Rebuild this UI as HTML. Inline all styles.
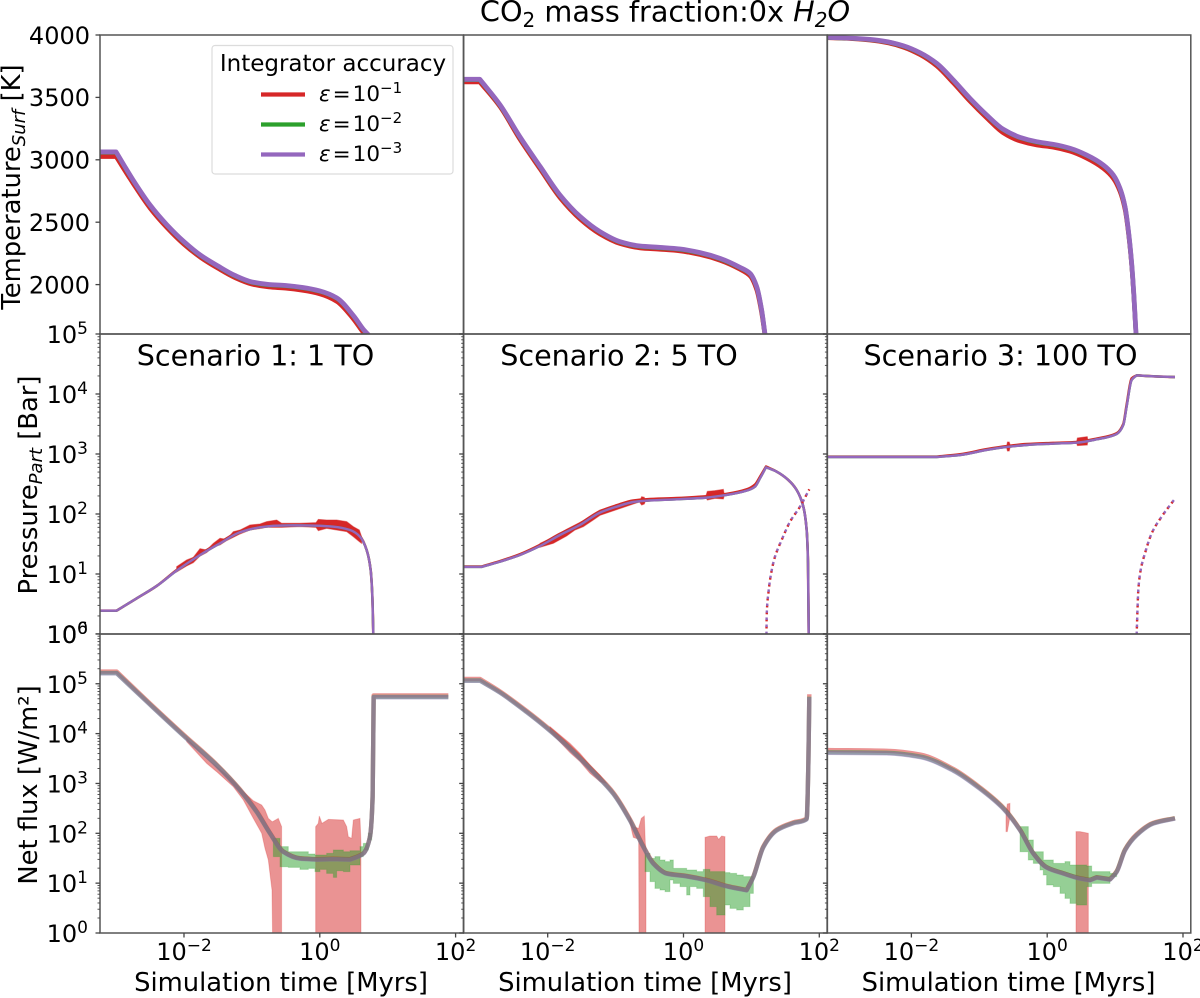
<!DOCTYPE html>
<html lang="en">
<head>
<meta charset="utf-8">
<title>CO2 mass fraction chart</title>
<style>
html,body{margin:0;padding:0;background:#fff;width:1200px;height:998px;overflow:hidden}
svg{display:block;filter:blur(0.35px)}
text{font-family:"DejaVu Sans",sans-serif;fill:#000}
.tl{font-size:24px}
.sup{font-size:17px}
.axt{font-size:25.8px}
.scn{font-size:28.6px}
</style>
</head>
<body>
<svg id="chart" xmlns="http://www.w3.org/2000/svg" width="1200" height="998" viewBox="0 0 1200 998">
  <rect x="0" y="0" width="1200" height="998" fill="#fff"/>
  <g id="marks"></g>
  <g id="axes"></g>

  <text x="665" y="21.5" text-anchor="middle" font-size="28.7">CO<tspan font-size="20" dy="5.5">2</tspan><tspan dy="-5.5"> mass fraction:0x </tspan><tspan font-style="italic">H</tspan><tspan font-size="20" dy="5.5" font-style="italic">2</tspan><tspan dy="-5.5" font-style="italic">O</tspan></text>

  <text class="scn" x="255.5" y="365.5" text-anchor="middle">Scenario 1: 1 TO</text>
  <text class="scn" x="619" y="365.5" text-anchor="middle">Scenario 2: 5 TO</text>
  <text class="scn" x="1000.5" y="365.5" text-anchor="middle">Scenario 3: 100 TO</text>

  <text class="axt" transform="translate(20,187) rotate(-90)" text-anchor="middle">Temperature<tspan font-size="18" font-style="italic" dy="5">Surf</tspan><tspan dy="-5"> [K]</tspan></text>
  <text class="axt" transform="translate(37,485) rotate(-90)" text-anchor="middle">Pressure<tspan font-size="18" font-style="italic" dy="5">Part</tspan><tspan dy="-5"> [Bar]</tspan></text>
  <text class="axt" transform="translate(37,785) rotate(-90)" text-anchor="middle">Net flux [W/m²]</text>

  <text class="axt" x="281" y="991" text-anchor="middle">Simulation time [Myrs]</text>
  <text class="axt" x="645" y="991" text-anchor="middle">Simulation time [Myrs]</text>
  <text class="axt" x="1008.5" y="991" text-anchor="middle">Simulation time [Myrs]</text>

  <g id="legend">
    <rect x="212" y="45.5" width="241" height="128.5" rx="3" fill="#fff" fill-opacity="0.9" stroke="#dcdcdc" stroke-width="1.2"/>
    <text x="333" y="71" text-anchor="middle" font-size="23">Integrator accuracy</text>
    <line x1="261" x2="305" y1="94.5" y2="94.5" stroke="#d62728" stroke-width="4.2"/>
    <text x="319" y="101" font-size="21.5"><tspan font-style="italic">ε</tspan><tspan dx="2">=</tspan><tspan dx="2">10</tspan><tspan font-size="15" dy="-8">−1</tspan></text>
    <line x1="261" x2="305" y1="124.5" y2="124.5" stroke="#2ca02c" stroke-width="4.2"/>
    <text x="319" y="131" font-size="21.5"><tspan font-style="italic">ε</tspan><tspan dx="2">=</tspan><tspan dx="2">10</tspan><tspan font-size="15" dy="-8">−2</tspan></text>
    <line x1="261" x2="305" y1="154.5" y2="154.5" stroke="#9467bd" stroke-width="4.2"/>
    <text x="319" y="161" font-size="21.5"><tspan font-style="italic">ε</tspan><tspan dx="2">=</tspan><tspan dx="2">10</tspan><tspan font-size="15" dy="-8">−3</tspan></text>
  </g>
</svg>

<script>
// ---- Axis tick values ----
const tempTicks = [2000, 2500, 3000, 3500, 4000];
const pressExponents = [0, 1, 2, 3, 4, 5];
const fluxExponents = [0, 1, 2, 3, 4, 5, 6];
const timeExponents = [-2, 0, 2];
const minorMultipliers = [2, 3, 4, 5, 6, 7, 8, 9];

// ---- Temperature [K] vs log10(time in Myr) ----
const tempTime1 = [-3.24,-3,-2.75,-2.5,-2.25,-2,-1.75,-1.5,-1.25,-1,-0.75,-0.5,-0.25,0,0.25,0.5,0.65,0.72];
const tempRed1 = [3025,3025,2810,2612,2455,2322,2215,2130,2055,2003,1980,1970,1953,1925,1865,1720,1610,1575];
const tempGreen1 = [3060,3060,2835,2635,2475,2340,2230,2146,2070,2018,1998,1990,1974,1946,1890,1745,1633,1593];
const tempPurple1 = [3063,3063,2838,2638,2478,2344,2233,2149,2073,2021,2001,1993,1977,1949,1893,1748,1636,1596];

const tempTime2 = [-3.24,-3,-2.7,-2.41,-2.11,-1.82,-1.52,-1.23,-0.935,-0.64,-0.346,-0.05,0.243,0.538,0.832,0.98,1.078,1.151,1.2];
const tempRed2 = [3623,3623,3423,3164,2924,2696,2523,2405,2328,2293,2282,2269,2240,2194,2122,2069,1957,1770,1590];
const tempGreen2 = [3642,3642,3436,3182,2942,2715,2541,2421,2341,2306,2295,2282,2253,2207,2135,2087,1980,1793,1601];
const tempPurple2 = [3645,3645,3439,3185,2945,2718,2544,2424,2344,2309,2298,2285,2256,2210,2138,2090,1983,1796,1604];

const tempTime3 = [-3.238,-2.953,-2.61,-2.364,-2.119,-1.873,-1.628,-1.382,-1.137,-0.891,-0.646,-0.4,-0.155,0.09,0.336,0.581,0.827,0.974,1.072,1.146,1.195,1.244,1.278,1.308];
const tempRed3 = [3978,3972,3958,3938,3902,3842,3752,3615,3468,3335,3215,3150,3118,3100,3068,3012,2930,2850,2745,2600,2415,2150,1885,1590];
const tempGreen3 = [3980,3975,3963,3945,3911,3855,3770,3636,3489,3356,3241,3177,3142,3121,3089,3035,2955,2875,2768,2621,2434,2167,1900,1601];
const tempPurple3 = [3981,3976,3965,3947,3914,3858,3773,3639,3492,3359,3244,3180,3145,3124,3092,3038,2958,2878,2771,2624,2437,2170,1903,1604];

// ---- Partial pressure, log10(Bar) vs log10(time in Myr) ----
const pressTime1 = [-3.237,-2.992,-2.697,-2.403,-2.108,-1.764,-1.47,-1.175,-0.881,-0.635,-0.39,-0.046,0.2,0.445,0.592,0.69,0.749,0.774,0.788];
const pressRed1 = [0.389,0.389,0.594,0.8,1.066,1.33,1.525,1.71,1.79,1.815,1.82,1.815,1.8,1.745,1.63,1.4,1.067,0.622,0];
const pressGreen1 = [0.389,0.389,0.594,0.8,1.056,1.317,1.511,1.695,1.778,1.806,1.811,1.806,1.789,1.733,1.622,1.4,1.067,0.622,0];
const pressPurple1 = [0.389,0.389,0.594,0.8,1.056,1.317,1.511,1.695,1.778,1.806,1.811,1.806,1.789,1.733,1.622,1.4,1.067,0.622,0];
const pressNoiseTime1 = [-2.108,-1.961,-1.863,-1.764,-1.666,-1.568,-1.47,-1.372,-1.274,-1.175,-1.028,-0.881,-0.783,-0.635,-0.562,-0.292,-0.056,-0.022,0.101,0.248,0.396,0.494,0.582,0.616];
const pressNoiseUpper1 = [1.123,1.234,1.278,1.422,1.4,1.511,1.595,1.578,1.706,1.733,1.817,1.834,1.873,1.9,1.845,1.845,1.856,1.911,1.9,1.9,1.873,1.789,1.733,1.622];
const pressNoiseLower1 = [1.034,1.134,1.189,1.3,1.356,1.456,1.484,1.556,1.611,1.667,1.733,1.756,1.778,1.778,1.778,1.789,1.778,1.723,1.761,1.733,1.706,1.622,1.539,1.511];

const pressTime2 = [-3.242,-2.972,-2.702,-2.408,-2.113,-1.819,-1.524,-1.23,-0.984,-0.739,-0.542,-0.1,0.341,0.636,0.93,1.053,1.127,1.215,1.372,1.544,1.667,1.765,1.814,1.834,1.844];
const pressRed2 = [1.125,1.125,1.215,1.33,1.485,1.67,1.84,2.045,2.145,2.225,2.245,2.265,2.295,2.335,2.41,2.49,2.62,2.79,2.706,2.567,2.4,2.122,1.733,1.178,0];
const pressGreen2 = [1.117,1.117,1.206,1.317,1.467,1.65,1.817,2.023,2.122,2.2,2.222,2.245,2.273,2.317,2.389,2.456,2.595,2.778,2.706,2.567,2.4,2.122,1.733,1.178,0];
const pressPurple2 = [1.117,1.117,1.206,1.317,1.467,1.65,1.817,2.023,2.122,2.2,2.222,2.245,2.273,2.317,2.389,2.456,2.595,2.778,2.706,2.567,2.4,2.122,1.733,1.178,0];
const pressNoiseTime2 = [-2.113,-1.917,-1.721,-1.598,-1.475,-1.328,-1.23,-0.65,-0.616,-0.577,-0.562,0.331,0.351,0.464,0.587,0.602];
const pressNoiseUpper2 = [1.511,1.611,1.745,1.817,1.889,2.0,2.067,2.206,2.289,2.278,2.217,2.306,2.378,2.389,2.411,2.317];
const pressNoiseLower2 = [1.445,1.511,1.634,1.733,1.789,1.9,1.978,2.2,2.15,2.167,2.211,2.272,2.233,2.261,2.25,2.306];
const vaporTime2 = [1.222,1.225,1.25,1.3,1.348,1.446,1.569,1.716,1.853];
const vaporPress2 = [0,0.289,0.678,1.067,1.289,1.567,1.872,2.122,2.411];

const pressTime3 = [-3.238,-1.628,-1.284,-0.891,-0.597,-0.302,0.09,0.434,0.729,1.023,1.121,1.17,1.244,1.318,1.563,1.882];
const pressRed3 = [2.955,2.955,2.995,3.08,3.13,3.165,3.185,3.2,3.256,3.345,3.5,3.82,4.26,4.311,4.295,4.283];
const pressGreen3 = [2.95,2.95,2.983,3.067,3.117,3.15,3.172,3.189,3.244,3.333,3.483,3.789,4.233,4.311,4.295,4.283];
const pressPurple3 = [2.95,2.95,2.983,3.067,3.117,3.15,3.172,3.189,3.244,3.333,3.483,3.789,4.233,4.311,4.295,4.283];
const pressNoiseTime3 = [-0.6,-0.585,-0.56,-0.54,0.43,0.445,0.59,0.6];
const pressNoiseUpper3 = [3.115,3.2,3.2,3.135,3.19,3.267,3.289,3.23];
const pressNoiseLower3 = [3.115,3.05,3.05,3.135,3.19,3.139,3.15,3.23];
const vaporTime3 = [1.318,1.328,1.342,1.377,1.44,1.539,1.686,1.867];
const vaporPress3 = [0,0.344,0.733,1.067,1.344,1.678,1.956,2.233];

// ---- Net flux, log10(W/m2) vs log10(time in Myr) ----
const fluxTime1 = [-3.237,-2.992,-2.501,-2.01,-1.519,-1.175,-0.93,-0.734,-0.537,-0.292,-0.046,0.2,0.445,0.641,0.739,0.778,0.793,1.893];
const fluxRed1 = [5.245,5.245,4.605,3.985,3.38,2.88,2.445,2.01,1.635,1.5,1.48,1.49,1.48,1.6,1.935,2.74,4.765,4.765];
const fluxGreen1 = [5.215,5.215,4.585,3.965,3.365,2.865,2.43,2.0,1.63,1.495,1.475,1.484,1.475,1.595,1.93,2.73,4.735,4.735];
const fluxPurple1 = [5.21,5.21,4.58,3.96,3.36,2.86,2.43,2.0,1.625,1.49,1.47,1.48,1.47,1.59,1.93,2.73,4.73,4.73];
const fluxRedSlopeTime1 = [-1.961,-1.666,-1.519,-1.274,-1.126,-0.979,-0.856,-0.807,-0.758,-0.704,-0.694,-0.611,-0.562];
const fluxRedSlopeUpper1 = [3.905,3.504,3.336,3.056,2.835,2.654,2.567,2.467,2.3,2.233,2.233,2.3,2.133];
const fluxRedSlopeLower1 = [3.838,3.403,3.236,2.935,2.668,2.3,2.0,1.698,1.464,0.862,-0.2,-0.2,-0.2];
const fluxRedBarTime1 = [-0.061,-0.022,-0.007,0.032,0.126,0.347,0.396,0.42,0.469,0.494,0.592,0.607];
const fluxRedBarUpper1 = [2.133,2.2,2.347,2.2,2.28,2.267,2.133,1.932,1.899,2.267,2.3,1.798];
const fluxRedBarLower1 = [-0.2,-0.2,-0.2,-0.2,-0.2,-0.2,-0.2,-0.2,-0.2,-0.2,-0.2,-0.2];
const fluxGreenTime1 = [-0.684,-0.586,-0.464,-0.365,-0.292,-0.169,-0.071,0.003,0.101,0.2,0.248,0.347,0.445,0.592,0.641,0.715,0.764];
const fluxGreenUpper1 = [1.899,1.732,1.631,1.631,1.631,1.585,1.564,1.564,1.598,1.665,1.665,1.631,1.651,1.732,1.798,2.0,2.066];
const fluxGreenLower1 = [1.798,1.531,1.33,1.317,1.317,1.277,1.297,1.23,1.277,1.197,1.116,1.25,1.23,1.364,1.531,1.665,1.866];

const fluxTime2 = [-3.242,-2.997,-2.702,-2.31,-2.015,-1.671,-1.328,-1.033,-0.788,-0.591,-0.444,-0.248,0.047,0.341,0.636,0.93,1.029,1.176,1.372,1.618,1.814,1.839,1.853];
const fluxRed2 = [5.095,5.095,4.845,4.455,4.135,3.72,3.25,2.815,2.28,1.742,1.405,1.2,1.145,1.065,0.945,0.865,1.135,1.74,2.075,2.22,2.3,3.41,4.79];
const fluxGreen2 = [5.065,5.065,4.825,4.435,4.115,3.7,3.23,2.795,2.26,1.728,1.393,1.193,1.138,1.058,0.938,0.858,1.125,1.725,2.06,2.205,2.285,3.395,4.74];
const fluxPurple2 = [5.06,5.06,4.82,4.43,4.11,3.695,3.225,2.79,2.255,1.725,1.39,1.19,1.135,1.055,0.935,0.855,1.12,1.72,2.055,2.2,2.28,3.39,4.73];
const fluxRedSlopeTime2 = [-1.966,-1.671,-1.524,-1.377,-1.23,-1.131];
const fluxRedSlopeUpper2 = [4.139,3.804,3.604,3.37,3.169,3.002];
const fluxRedSlopeLower2 = [4.039,3.617,3.437,3.203,3.036,3.002];
const fluxRedBarATime2 = [-0.788,-0.739,-0.66,-0.655,-0.621,-0.577,-0.562,-0.552];
const fluxRedBarAUpper2 = [2.333,2.133,2.1,2.133,2.3,2.347,1.798,1.7];
const fluxRedBarALower2 = [2.2,1.919,1.879,-0.2,-0.2,-0.2,-0.2,-0.2];
const fluxRedBarBTime2 = [0.317,0.39,0.489,0.518,0.562,0.611];
const fluxRedBarBUpper2 = [1.919,1.946,1.946,1.879,1.946,1.932];
const fluxRedBarBLower2 = [-0.2,-0.2,-0.2,-0.2,-0.2,-0.2];
const fluxGreenTime2 = [-0.567,-0.493,-0.42,-0.346,-0.272,-0.199,-0.15,-0.051,0.047,0.096,0.194,0.292,0.39,0.489,0.611,0.685,0.783,0.881,0.98,1.029];
const fluxGreenUpper2 = [1.598,1.498,1.531,1.464,1.431,1.464,1.297,1.297,1.263,1.263,1.23,1.277,1.23,1.23,1.21,1.197,1.163,1.13,1.13,1.197];
const fluxGreenLower2 = [1.397,1.23,1.03,0.896,0.862,0.829,1.063,0.996,0.93,0.762,0.93,0.896,0.729,0.528,0.361,0.561,0.495,0.461,0.528,0.796];

const fluxTime3 = [-3.238,-2.364,-1.873,-1.382,-0.99,-0.646,-0.4,-0.204,-0.008,0.238,0.483,0.63,0.729,0.925,1.023,1.146,1.318,1.563,1.882];
const fluxRed3 = [3.67,3.655,3.58,3.29,2.92,2.515,2.075,1.6,1.32,1.2,1.1,1.065,1.12,1.08,1.24,1.675,1.98,2.21,2.305];
const fluxGreen3 = [3.625,3.615,3.54,3.265,2.9,2.5,2.066,1.598,1.317,1.197,1.096,1.063,1.116,1.076,1.23,1.665,1.966,2.2,2.3];
const fluxPurple3 = [3.615,3.605,3.53,3.255,2.89,2.49,2.06,1.59,1.31,1.19,1.09,1.055,1.11,1.07,1.22,1.655,1.96,2.195,2.295];
const fluxRedBarATime3 = [-0.607,-0.587,-0.548];
const fluxRedBarAUpper3 = [2.4,2.588,2.6];
const fluxRedBarALower3 = [2.033,2.033,2.333];
const fluxRedBarBTime3 = [0.424,0.483,0.606];
const fluxRedBarBUpper3 = [2.033,2.033,2.0];
const fluxRedBarBLower3 = [-0.2,-0.2,-0.2];
const fluxGreenTime3 = [-0.4,-0.278,-0.204,-0.106,-0.057,-0.008,0.09,0.189,0.262,0.336,0.434,0.581,0.655,0.778,0.925,1.023];
const fluxGreenUpper3 = [2.133,1.865,1.631,1.631,1.464,1.464,1.397,1.397,1.431,1.364,1.364,1.344,1.23,1.23,1.197,1.263];
const fluxGreenLower3 = [2.0,1.631,1.464,1.397,1.263,1.163,0.963,0.93,0.796,0.695,0.595,0.561,0.93,0.996,0.996,1.13];

// ---- Colours ----
const RED = '#d62728', GREEN = '#2ca02c', PURPLE = '#9467bd';

// ---- Axis functions ----
const NS = 'http://www.w3.org/2000/svg';
const panelLeft = [100, 463.7, 827.4];
const panelWidth = 363.4;
const rowTop = [35, 334, 634];
const rowHeight = [299, 300, 299];
const xScale = (panel, logT) => panelLeft[panel] + (logT + 3.237) * 67.9;
const yTemp = (k) => 35 + (4000 - k) * 0.1248;
const yPress = (logP) => 634 - logP * 60;
const yFlux = (logF) => 933 - logF * 49.85;

const marks = document.getElementById('marks');
const axes = document.getElementById('axes');
const defs = document.createElementNS(NS, 'defs');
document.getElementById('chart').appendChild(defs);

for (let r = 0; r < 3; r++) {
  for (let p = 0; p < 3; p++) {
    const cp = document.createElementNS(NS, 'clipPath');
    cp.setAttribute('id', 'clip-' + r + '-' + p);
    const cr = document.createElementNS(NS, 'rect');
    cr.setAttribute('x', panelLeft[p]);
    cr.setAttribute('y', rowTop[r]);
    cr.setAttribute('width', panelWidth);
    cr.setAttribute('height', rowHeight[r]);
    cp.appendChild(cr);
    defs.appendChild(cp);
  }
}

// Monotone cubic through the mapped points; corners stay sharp at flats and turning points.
function smoothPath(xs, ys) {
  const n = xs.length;
  const dx = [], m = [];
  for (let i = 0; i < n - 1; i++) {
    dx.push(Math.max(xs[i + 1] - xs[i], 0.001));
    m.push((ys[i + 1] - ys[i]) / dx[i]);
  }
  const tIn = [m[0]], tOut = [m[0]];
  for (let i = 1; i < n - 1; i++) {
    if (m[i - 1] * m[i] <= 0) {
      tIn.push(m[i - 1]);
      tOut.push(m[i]);
    } else {
      const w1 = 2 * dx[i] + dx[i - 1], w2 = dx[i] + 2 * dx[i - 1];
      const t = (w1 + w2) / (w1 / m[i - 1] + w2 / m[i]);
      tIn.push(t);
      tOut.push(t);
    }
  }
  tIn.push(m[n - 2]);
  tOut.push(m[n - 2]);
  let d = 'M' + xs[0].toFixed(2) + ' ' + ys[0].toFixed(2);
  for (let i = 0; i < n - 1; i++) {
    const h = dx[i] / 3;
    d += 'C' + (xs[i] + h).toFixed(2) + ' ' + (ys[i] + tOut[i] * h).toFixed(2) + ' ' +
      (xs[i + 1] - h).toFixed(2) + ' ' + (ys[i + 1] - tIn[i + 1] * h).toFixed(2) + ' ' +
      xs[i + 1].toFixed(2) + ' ' + ys[i + 1].toFixed(2);
  }
  return d;
}

function drawLine(name, row, panel, times, values, yFn, color, width, opacity, dash, dashOffset) {
  const d = smoothPath(times.map(t => xScale(panel, t)), values.map(yFn));
  const el = document.createElementNS(NS, 'path');
  
  
  el.setAttribute('d', d);
  el.setAttribute('fill', 'none');
  el.setAttribute('stroke', color);
  el.setAttribute('stroke-width', width);
  el.setAttribute('stroke-linejoin', 'round');
  el.setAttribute('stroke-opacity', opacity);
  if (dash) {
    el.setAttribute('stroke-dasharray', dash);
    el.setAttribute('stroke-dashoffset', dashOffset || 0);
  }
  el.setAttribute('clip-path', 'url(#clip-' + row + '-' + panel + ')');
  marks.appendChild(el);
}

function drawBand(name, row, panel, times, upper, lower, yFn, color, opacity, stepped) {
  let d = '';
  for (let i = 0; i < times.length; i++) {
    const x = xScale(panel, times[i]).toFixed(2);
    if (i && stepped) d += 'L' + x + ' ' + yFn(upper[i - 1]).toFixed(2);
    d += (i ? 'L' : 'M') + x + ' ' + yFn(upper[i]).toFixed(2);
  }
  for (let i = times.length - 1; i >= 0; i--) {
    const x = xScale(panel, times[i]).toFixed(2);
    if (i < times.length - 1 && stepped) d += 'L' + x + ' ' + yFn(lower[i + 1]).toFixed(2);
    d += 'L' + x + ' ' + yFn(lower[i]).toFixed(2);
  }
  d += 'Z';
  const el = document.createElementNS(NS, 'path');
  
  
  el.setAttribute('d', d);
  el.setAttribute('fill', color);
  el.setAttribute('fill-opacity', opacity);
  el.setAttribute('stroke', color);
  el.setAttribute('stroke-opacity', opacity * 0.5);
  el.setAttribute('stroke-width', 1);
  el.setAttribute('clip-path', 'url(#clip-' + row + '-' + panel + ')');
  marks.appendChild(el);
}

function drawTick(name, x1, y1, x2, y2, w) {
  const el = document.createElementNS(NS, 'line');
  
  
  el.setAttribute('x1', x1);
  el.setAttribute('y1', y1);
  el.setAttribute('x2', x2);
  el.setAttribute('y2', y2);
  el.setAttribute('stroke', '#444');
  el.setAttribute('stroke-width', w);
  axes.appendChild(el);
}

function drawLabel(name, x, y, anchor, base, sup) {
  const el = document.createElementNS(NS, 'text');
  
  
  el.setAttribute('class', 'tl');
  el.setAttribute('x', x);
  el.setAttribute('y', y);
  el.setAttribute('text-anchor', anchor);
  el.textContent = base;
  if (sup !== undefined) {
    const t = document.createElementNS(NS, 'tspan');
    t.setAttribute('class', 'sup');
    t.setAttribute('dy', '-9');
    t.textContent = sup;
    el.appendChild(t);
  }
  axes.appendChild(el);
}

// ---- Temperature row ----
const tempTimes = [tempTime1, tempTime2, tempTime3];
const tempReds = [tempRed1, tempRed2, tempRed3];
const tempGreens = [tempGreen1, tempGreen2, tempGreen3];
const tempPurples = [tempPurple1, tempPurple2, tempPurple3];
for (let p = 0; p < 3; p++) {
  drawLine('temperature-line-red-s' + (p + 1), 0, p, tempTimes[p], tempReds[p], yTemp, RED, 4.4, 1);
  drawLine('temperature-line-green-s' + (p + 1), 0, p, tempTimes[p], tempGreens[p], yTemp, GREEN, 4.6, 1);
  drawLine('temperature-line-purple-s' + (p + 1), 0, p, tempTimes[p], tempPurples[p], yTemp, PURPLE, 4.8, 1);
}

// ---- Pressure row ----
const pressTimes = [pressTime1, pressTime2, pressTime3];
const pressReds = [pressRed1, pressRed2, pressRed3];
const pressGreens = [pressGreen1, pressGreen2, pressGreen3];
const pressPurples = [pressPurple1, pressPurple2, pressPurple3];
const pressNoiseTimes = [pressNoiseTime1, pressNoiseTime2, pressNoiseTime3];
const pressNoiseUppers = [pressNoiseUpper1, pressNoiseUpper2, pressNoiseUpper3];
const pressNoiseLowers = [pressNoiseLower1, pressNoiseLower2, pressNoiseLower3];
for (let p = 0; p < 3; p++) {
  drawBand('pressure-noise-red-s' + (p + 1), 1, p, pressNoiseTimes[p], pressNoiseUppers[p], pressNoiseLowers[p], yPress, RED, 1, false);
  drawLine('pressure-line-red-s' + (p + 1), 1, p, pressTimes[p], pressReds[p], yPress, RED, 2.6, 1);
  drawLine('pressure-line-green-s' + (p + 1), 1, p, pressTimes[p], pressGreens[p], yPress, GREEN, 2.4, 1);
  drawLine('pressure-line-purple-s' + (p + 1), 1, p, pressTimes[p], pressPurples[p], yPress, PURPLE, 2.4, 1);
}
drawLine('vapor-pressure-dotted-red-s2', 1, 1, vaporTime2, vaporPress2, yPress, RED, 2.4, 1, '2.5 4.5', 1.5);
drawLine('vapor-pressure-dotted-purple-s2', 1, 1, vaporTime2, vaporPress2, yPress, PURPLE, 2.4, 1, '2.5 4.5', 0);
drawLine('vapor-pressure-dotted-red-s3', 1, 2, vaporTime3, vaporPress3, yPress, RED, 2.4, 1, '2.5 4.5', 1.5);
drawLine('vapor-pressure-dotted-purple-s3', 1, 2, vaporTime3, vaporPress3, yPress, PURPLE, 2.4, 1, '2.5 4.5', 0);

// ---- Net flux row ----
drawBand('flux-noise-red-slope-s1', 2, 0, fluxRedSlopeTime1, fluxRedSlopeUpper1, fluxRedSlopeLower1, yFlux, RED, 0.5, false);
drawBand('flux-noise-red-bar-s1', 2, 0, fluxRedBarTime1, fluxRedBarUpper1, fluxRedBarLower1, yFlux, RED, 0.5, false);
drawBand('flux-noise-green-s1', 2, 0, fluxGreenTime1, fluxGreenUpper1, fluxGreenLower1, yFlux, GREEN, 0.5, true);
drawBand('flux-noise-red-slope-s2', 2, 1, fluxRedSlopeTime2, fluxRedSlopeUpper2, fluxRedSlopeLower2, yFlux, RED, 0.5, false);
drawBand('flux-noise-red-bar-a-s2', 2, 1, fluxRedBarATime2, fluxRedBarAUpper2, fluxRedBarALower2, yFlux, RED, 0.5, false);
drawBand('flux-noise-red-bar-b-s2', 2, 1, fluxRedBarBTime2, fluxRedBarBUpper2, fluxRedBarBLower2, yFlux, RED, 0.5, false);
drawBand('flux-noise-green-s2', 2, 1, fluxGreenTime2, fluxGreenUpper2, fluxGreenLower2, yFlux, GREEN, 0.5, true);
drawBand('flux-noise-red-bar-a-s3', 2, 2, fluxRedBarATime3, fluxRedBarAUpper3, fluxRedBarALower3, yFlux, RED, 0.5, false);
drawBand('flux-noise-red-bar-b-s3', 2, 2, fluxRedBarBTime3, fluxRedBarBUpper3, fluxRedBarBLower3, yFlux, RED, 0.5, false);
drawBand('flux-noise-green-s3', 2, 2, fluxGreenTime3, fluxGreenUpper3, fluxGreenLower3, yFlux, GREEN, 0.5, true);
const fluxTimes = [fluxTime1, fluxTime2, fluxTime3];
const fluxReds = [fluxRed1, fluxRed2, fluxRed3];
const fluxGreens = [fluxGreen1, fluxGreen2, fluxGreen3];
const fluxPurples = [fluxPurple1, fluxPurple2, fluxPurple3];
for (let p = 0; p < 3; p++) {
  drawLine('flux-line-red-s' + (p + 1), 2, p, fluxTimes[p], fluxReds[p], yFlux, RED, 4.4, 0.5);
  drawLine('flux-line-green-s' + (p + 1), 2, p, fluxTimes[p], fluxGreens[p], yFlux, GREEN, 4.4, 0.5);
  drawLine('flux-line-purple-s' + (p + 1), 2, p, fluxTimes[p], fluxPurples[p], yFlux, PURPLE, 4.4, 0.5);
}

// ---- Spines ----
for (let r = 0; r < 3; r++) {
  for (let p = 0; p < 3; p++) {
    const s = document.createElementNS(NS, 'rect');
    
    
    s.setAttribute('x', panelLeft[p]);
    s.setAttribute('y', rowTop[r]);
    s.setAttribute('width', panelWidth);
    s.setAttribute('height', rowHeight[r]);
    s.setAttribute('fill', 'none');
    s.setAttribute('stroke', '#555');
    s.setAttribute('stroke-width', 1.5);
    axes.appendChild(s);
  }
}

// ---- Temperature ticks ----
for (const k of tempTicks) {
  drawTick('temperature-tick-' + k, 95.5, yTemp(k), 100, yTemp(k), 1.3);
  drawLabel('temperature-tick-label-' + k, 90, yTemp(k) + 8.8, 'end', String(k));
}

// ---- Log y ticks for pressure and flux ----
for (let p = 0; p < 3; p++) {
  const x0 = panelLeft[p];
  for (const e of pressExponents) {
    drawTick('pressure-major-tick-' + e + '-s' + (p + 1), x0 - 4.5, yPress(e), x0, yPress(e), 1.3);
    if (e < 5) {
      for (const m of minorMultipliers) {
        const v = e + Math.log10(m);
        drawTick('pressure-minor-tick-s' + (p + 1), x0 - 2.5, yPress(v), x0, yPress(v), 0.9);
      }
    }
  }
  for (const e of fluxExponents) {
    drawTick('flux-major-tick-' + e + '-s' + (p + 1), x0 - 4.5, yFlux(e), x0, yFlux(e), 1.3);
    if (e < 6) {
      for (const m of minorMultipliers) {
        const v = e + Math.log10(m);
        drawTick('flux-minor-tick-s' + (p + 1), x0 - 2.5, yFlux(v), x0, yFlux(v), 0.9);
      }
    }
  }
  for (const e of timeExponents) {
    const x = xScale(p, e);
    drawTick('time-tick-' + e + '-s' + (p + 1), x, 933, x, 937.5, 1.3);
    drawLabel('time-tick-label-' + e + '-s' + (p + 1), x, 960, 'middle', '10', e < 0 ? '−' + Math.abs(e) : String(e));
  }
}
for (const e of pressExponents) {
  drawLabel('pressure-tick-label-' + e, 88, yPress(e) + 9, 'end', '10', String(e));
}
for (const e of fluxExponents) {
  drawLabel('flux-tick-label-' + e, 88, yFlux(e) + 9, 'end', '10', String(e));
}
</script>
</body>
</html>
